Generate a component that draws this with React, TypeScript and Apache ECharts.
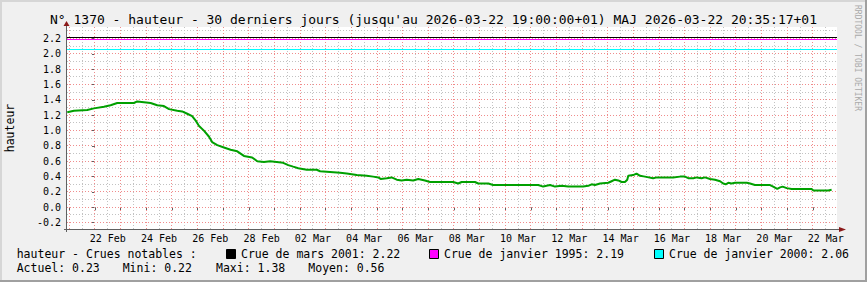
import React, { useEffect, useRef } from "react";
import * as echarts from "echarts";

const TITLE =
  "N° 1370 - hauteur - 30 derniers jours (jusqu'au 2026-03-22 19:00:00+01) MAJ 2026-03-22 20:35:17+01";
const Y_NAME = "hauteur";
const WATERMARK = "RRDTOOL / TOBI OETIKER";
const LEGEND_HEAD = "hauteur - Crues notables :";

// time in days relative to 22 Feb 2026 00:00 (+01)
const days = [
  -1.08, -0.82, -0.3, -0.04, 0.35, 0.61, 0.87, 1.52, 1.65, 2.17, 2.43, 2.69, 2.89, 3.21, 3.4, 3.6,
  3.79, 3.93, 4.06, 4.25, 4.45, 4.57, 4.77, 5.03, 5.29, 5.55, 5.81, 6.13, 6.33, 6.59, 6.83, 7.09,
  7.34, 7.54, 7.73, 7.93, 8.26, 8.65, 8.78, 9.17, 9.56, 9.82, 10.21, 10.6, 10.85, 11.05, 11.14,
  11.38, 11.57, 11.77, 11.96, 12.16, 12.41, 12.61, 12.87, 13.07, 13.97, 14.17, 14.3, 14.82, 14.95,
  15.34, 15.53, 17.29, 17.48, 17.75, 17.94, 18.2, 18.46, 19.04, 19.24, 19.37, 19.5, 19.7, 20.02,
  20.15, 20.28, 20.41, 20.54, 20.67, 20.76, 20.8, 20.99, 21.12, 21.26, 21.45, 21.77, 21.91, 22.55,
  22.82, 23.01, 23.14, 23.34, 23.47, 23.66, 23.79, 23.99, 24.18, 24.38, 24.5, 24.6, 24.7, 24.83,
  24.96, 25.42, 25.55, 25.74, 26.33, 26.45, 26.61, 26.72, 26.82, 26.98, 27.17, 27.95, 28.02, 28.47,
  28.6, 28.73,
];
const hauteur = [
  1.24, 1.26, 1.27, 1.29, 1.31, 1.33, 1.36, 1.36, 1.38, 1.36, 1.33, 1.32, 1.28, 1.26, 1.25, 1.22,
  1.19, 1.13, 1.06, 1.0, 0.92, 0.85, 0.81, 0.78, 0.75, 0.73, 0.67, 0.65, 0.6, 0.59, 0.6, 0.59,
  0.58, 0.55, 0.53, 0.51, 0.49, 0.49, 0.47, 0.46, 0.45, 0.44, 0.42, 0.41, 0.4, 0.39, 0.37,
  0.38, 0.39, 0.36, 0.35, 0.36, 0.35, 0.37, 0.35, 0.33, 0.33, 0.31, 0.33, 0.33, 0.31,
  0.31, 0.29, 0.29, 0.27, 0.29, 0.27, 0.28, 0.27, 0.27, 0.28, 0.3, 0.29, 0.31, 0.32,
  0.34, 0.36, 0.35, 0.33, 0.33, 0.36, 0.41, 0.42, 0.44, 0.41, 0.4, 0.38, 0.39, 0.39,
  0.4, 0.4, 0.38, 0.38, 0.39, 0.38, 0.39, 0.37, 0.36, 0.34, 0.31, 0.3, 0.32, 0.31,
  0.32, 0.32, 0.31, 0.29, 0.29, 0.27, 0.24, 0.26, 0.27, 0.25, 0.24, 0.24, 0.22, 0.22,
  0.22, 0.23,
];

const xLabelDays = [0.5, 2.5, 4.5, 6.5, 8.5, 10.5, 12.5, 14.5, 16.5, 18.5, 20.5, 22.5, 24.5, 26.5, 28.5];
const xLabels = [
  "22 Feb", "24 Feb", "26 Feb", "28 Feb", "02 Mar", "04 Mar", "06 Mar", "08 Mar",
  "10 Mar", "12 Mar", "14 Mar", "16 Mar", "18 Mar", "20 Mar", "22 Mar",
];
const yLabels = [-0.2, 0, 0.2, 0.4, 0.6, 0.8, 1.0, 1.2, 1.4, 1.6, 1.8, 2.0, 2.2];

const crueNames = ["Crue de mars 2001", "Crue de janvier 1995", "Crue de janvier 2000"];
const crueValues = [2.22, 2.19, 2.06];
const crueColors = ["#000000", "#ff00ff", "#00ffff"];

const statNames = ["Actuel", "Mini", "Maxi", "Moyen"];
const statValues = [0.23, 0.22, 1.38, 0.56];

// layout
const W = 867;
const H = 282;
const GL = 67;
const GR = 30;
const GT = 27;
const GB = 53;
const X_MIN = -1.09;
const X_MAX = 28.94;
const Y_MIN = -0.283;
const Y_MAX = 2.351;
const FONT = "'DejaVu Sans Mono', monospace";
const crueSquareX = [226, 429, 654];
const statX = [16.7, 122.7, 216, 308.3];
const MAJOR_GRID = "#f08c8c";
const MINOR_GRID = "#c2c2c2";

export default function App() {
  const ref = useRef<HTMLDivElement>(null);

  useEffect(() => {
    if (!ref.current) return;
    const chart = echarts.init(ref.current, null, { renderer: "svg" });

    // grid line definitions: [x, y, orientation (0 = horizontal, 1 = vertical), major]
    const gridLines: number[][] = [];
    for (let i = -3; i <= 24; i++) {
      const v = i / 10;
      if (v < Y_MIN || v > Y_MAX) continue;
      gridLines.push([X_MIN, v, 0, Math.abs(i % 2) === 0 ? 1 : 0]);
    }
    const vMajor: number[] = [];
    for (let d = Math.ceil(X_MIN); d <= X_MAX; d++) vMajor.push(d);
    for (let k = Math.ceil(X_MIN * 2); k <= X_MAX * 2; k++) {
      const d = k / 2;
      gridLines.push([d, Y_MIN, 1, k % 2 === 0 ? 1 : 0]);
    }

    const axisX = W - GR;
    const axisY = H - GB;

    const graphic: any[] = [
      { type: "rect", shape: { x: 0, y: 0, width: W, height: 2 }, style: { fill: "#d6d6d6" }, z: 100 },
      { type: "rect", shape: { x: 0, y: 0, width: 2, height: H }, style: { fill: "#d6d6d6" }, z: 100 },
      { type: "rect", shape: { x: 0, y: H - 2, width: W, height: 2 }, style: { fill: "#a0a0a0" }, z: 100 },
      { type: "rect", shape: { x: W - 2, y: 0, width: 2, height: H }, style: { fill: "#a0a0a0" }, z: 100 },
      {
        type: "text",
        x: W / 2,
        y: 19,
        style: { text: TITLE, font: `13px ${FONT}`, fill: "#000", align: "center", verticalAlign: "middle" },
        z: 50,
      },
      {
        type: "text",
        x: 10,
        y: (GT + axisY) / 2,
        rotation: Math.PI / 2,
        style: { text: Y_NAME, font: `11.5px ${FONT}`, fill: "#000", align: "center", verticalAlign: "middle" },
        z: 50,
      },
      {
        type: "text",
        x: 857,
        y: 58,
        rotation: -Math.PI / 2,
        style: { text: WATERMARK, font: `8px ${FONT}`, fill: "#aaaaaa", align: "center", verticalAlign: "middle" },
        z: 50,
      },
      { type: "line", shape: { x1: GL - 3, y1: axisY + 0.5, x2: axisX + 3, y2: axisY + 0.5 }, style: { stroke: "#606060", lineWidth: 1 }, z: 60 },
      { type: "line", shape: { x1: GL - 0.5, y1: axisY + 3, x2: GL - 0.5, y2: GT - 2 }, style: { stroke: "#606060", lineWidth: 1 }, z: 60 },
      {
        type: "polygon",
        shape: { points: [[axisX + 2, axisY - 2], [axisX + 9, axisY + 0.5], [axisX + 2, axisY + 3]] },
        style: { fill: "#8b1a1a" },
        z: 61,
      },
      {
        type: "polygon",
        shape: { points: [[GL - 3.5, GT - 1], [GL - 0.5, GT - 6], [GL + 2.5, GT - 1]] },
        style: { fill: "#8b1a1a" },
        z: 61,
      },
      {
        type: "text",
        x: 16.7,
        y: 254,
        style: { text: LEGEND_HEAD, font: `11.5px ${FONT}`, fill: "#000", verticalAlign: "middle" },
        z: 50,
      },
    ];
    crueNames.forEach((n, i) => {
      graphic.push({
        type: "rect",
        shape: { x: crueSquareX[i] + 0.5, y: 249.5, width: 9, height: 9 },
        style: { fill: crueColors[i], stroke: "#000", lineWidth: 1 },
        z: 50,
      });
      graphic.push({
        type: "text",
        x: crueSquareX[i] + 15,
        y: 254,
        style: { text: `${n}: ${crueValues[i].toFixed(2)}`, font: `11.5px ${FONT}`, fill: "#000", verticalAlign: "middle" },
        z: 50,
      });
    });
    statNames.forEach((n, i) => {
      graphic.push({
        type: "text",
        x: statX[i],
        y: 268.3,
        style: { text: `${n}: ${statValues[i].toFixed(2)}`, font: `11.5px ${FONT}`, fill: "#000", verticalAlign: "middle" },
        z: 50,
      });
    });

    chart.setOption({
      animation: false,
      backgroundColor: "#f0f0f0",
      textStyle: { fontFamily: FONT },
      grid: {
        left: GL,
        right: GR,
        top: GT,
        bottom: GB,
        show: true,
        backgroundColor: "#ffffff",
        borderWidth: 0,
        containLabel: false,
        outerBoundsMode: "none",
      },
      xAxis: {
        type: "value",
        min: X_MIN,
        max: X_MAX,
        splitLine: { show: false },
        axisLine: { show: false },
        axisTick: {
          show: true,
          customValues: vMajor,
          length: 3,
          lineStyle: { color: "#606060" },
        },
        axisLabel: {
          customValues: xLabelDays,
          formatter: (v: number) => {
            const i = xLabelDays.findIndex((d) => Math.abs(d - v) < 1e-6);
            return i >= 0 ? xLabels[i] : "";
          },
          fontSize: 10,
          fontFamily: FONT,
          color: "#000",
          margin: 4,
        },
      },
      yAxis: {
        type: "value",
        min: Y_MIN,
        max: Y_MAX,
        splitLine: { show: false },
        axisLine: { show: false },
        axisTick: {
          show: true,
          customValues: yLabels,
          length: 3,
          lineStyle: { color: "#606060" },
        },
        axisLabel: {
          customValues: yLabels,
          formatter: (v: number) => v.toFixed(1),
          fontSize: 10,
          fontFamily: FONT,
          color: "#000",
          margin: 6,
        },
      },
      graphic,
      series: [
        {
          type: "custom",
          name: "grid",
          z: 1,
          silent: true,
          clip: false,
          encode: { x: 0, y: 1 },
          dimensions: ["x", "y", "o", "m"],
          data: gridLines,
          renderItem: (_params: any, api: any) => {
            const xv = api.value(0);
            const yv = api.value(1);
            const orient = api.value(2);
            const major = api.value(3) === 1;
            let shape;
            if (orient === 0) {
              const p1 = api.coord([X_MIN, yv]);
              const p2 = api.coord([X_MAX, yv]);
              const yy = Math.round(p1[1] - 0.5) + 0.5;
              shape = { x1: Math.round(p1[0]), y1: yy, x2: Math.round(p2[0]), y2: yy };
            } else {
              const p1 = api.coord([xv, Y_MIN]);
              const p2 = api.coord([xv, Y_MAX]);
              const xx = Math.round(p1[0] - 0.5) + 0.5;
              shape = { x1: xx, y1: Math.round(p1[1]), x2: xx, y2: Math.round(p2[1]) };
            }
            return {
              type: "line",
              shape,
              z2: major ? 2 : 1,
              style: {
                stroke: major ? MAJOR_GRID : MINOR_GRID,
                lineWidth: 1,
                lineDash: [1, 2],
              },
            };
          },
        },
        {
          type: "line",
          name: "crues",
          data: [],
          z: 3,
          silent: true,
          markLine: {
            silent: true,
            symbol: ["none", "none"],
            label: { show: false },
            emphasis: { disabled: true },
            animation: false,
            data: crueValues.map((v, i) => ({
              yAxis: v,
              lineStyle: { color: crueColors[i], width: 1, type: "solid" },
            })),
          },
        },
        {
          type: "line",
          name: "hauteur",
          data: days.map((d, i) => [d, hauteur[i]]),
          showSymbol: false,
          symbol: "none",
          z: 5,
          silent: true,
          lineStyle: { color: "#00a000", width: 2 },
          itemStyle: { color: "#00a000" },
        },
      ],
    });

    return () => chart.dispose();
  }, []);

  return <div ref={ref} style={{ position: "fixed", left: 0, top: 0, width: W, height: H }} />;
}
